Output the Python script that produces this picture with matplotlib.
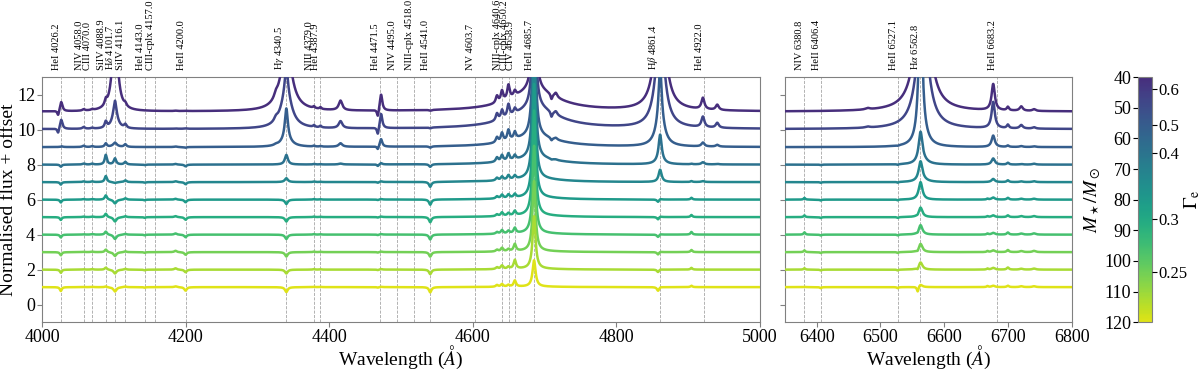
import numpy as np
import matplotlib.pyplot as plt
from matplotlib import cm, colors
from matplotlib.transforms import blended_transform_factory

plt.rcParams['font.family'] = ['Liberation Serif', 'DejaVu Serif']
plt.rcParams['mathtext.fontset'] = 'stix'

# model grid (top curve = 40 Msun, bottom = 120 Msun)
masses = [40, 48, 56, 64, 72, 80, 88, 96, 104, 112, 120]
offsets = [10, 9, 8, 7, 6, 5, 4, 3, 2, 1, 0]
cont_level = [1.03, 1.03, 1.0, 1.0, 1.0, 1.0, 1.0, 1.0, 1.0, 1.0, 1.0]

# Gamma_e axis of the colour bar (tick value, mass position)
gamma_ticks = [0.6, 0.5, 0.4, 0.3, 0.25]
gamma_tick_mass = [43.9, 55.5, 64.7, 86.4, 103.5]

# marked lines
blue_ids = ['HeI 4026.2', 'NIV 4058.0', 'CIII 4070.0', 'SiIV 4088.9', r'H$\delta$ 4101.7',
            'SiIV 4116.1', 'HeI 4143.0', 'CIII-cplx 4157.0', 'HeII 4200.0', r'H$\gamma$ 4340.5',
            'NIII 4379.0', 'HeI 4387.9', 'HeI 4471.5', 'NIV 4495.0', 'NIII-cplx 4518.0',
            'HeII 4541.0', 'NV 4603.7', 'NIII-cplx 4640.6', 'CIII-cplx 4650.2', 'CIV 4658.9',
            'HeII 4685.7', r'H$\beta$ 4861.4', 'HeI 4922.0']
blue_waves = [4026.2, 4058.0, 4070.0, 4088.9, 4101.7, 4116.1, 4143.0, 4157.0, 4200.0, 4340.5,
              4379.0, 4387.9, 4471.5, 4495.0, 4518.0, 4541.0, 4603.7, 4640.6, 4650.2, 4658.9,
              4685.7, 4861.4, 4922.0]
red_ids = ['NIV 6380.8', 'HeII 6406.4', 'HeII 6527.1', r'H$\alpha$ 6562.8', 'HeII 6683.2']
red_waves = [6380.8, 6406.4, 6527.1, 6562.8, 6683.2]

# profile components: centre, half width, amplitude per model
blue_centre = [4026.2, 4022.5, 4026.8, 4058.0, 4070.0, 4088.9, 4101.7, 4101.7, 4101.7,
               4116.1, 4143.0, 4186.0, 4200.0, 4326.0, 4340.5, 4340.5, 4340.5,
               4379.0, 4388.0, 4416.0, 4472.5, 4468.0, 4541.0, 4634.0, 4641.0, 4650.0,
               4658.9, 4686.0, 4685.7, 4710.0, 4716.0, 4861.4, 4861.4, 4858.5,
               4905.0, 4921.0, 4941.0]
blue_width = [1.5, 1.5, 2.0, 2.0, 2.0, 1.8, 4.5, 2.0, 2.5,
              2.0, 1.5, 2.0, 2.0, 3.0, 9.0, 2.5, 2.2,
              1.5, 1.5, 3.0, 2.0, 1.5, 2.0, 2.0, 2.0, 2.0,
              2.0, 40.0, 2.5, 1.5, 2.5, 7.0, 2.5, 1.8,
              1.5, 2.5, 2.5]
blue_amp = [
    [0, 0, -0.05, -0.12, -0.14, -0.16, -0.16, -0.16, -0.18, -0.18, -0.22],
    [-0.3, -0.3, 0, 0, 0, 0, 0, 0, 0, 0, 0],
    [0.55, 0.55, 0.08, 0, 0, 0, 0, 0, 0, 0, 0],
    [0.08, 0.1, 0.08, 0.06, 0.04, 0.03, 0.03, 0.02, 0.02, 0.02, 0.01],
    [0.05, 0.05, 0.05, 0.05, 0.04, 0.03, 0.03, 0.03, 0.03, 0.03, 0.02],
    [0.3, 0.35, 0.2, 0.55, 0.35, 0.25, 0.2, 0.18, 0.15, 0.12, 0.05],
    [4.5, 1.0, 0.15, 0, 0, 0, 0, 0, 0, 0, 0],
    [0.8, 0.6, 0.1, 0.35, 0.05, 0, 0, 0, 0, 0, 0],
    [0, 0, 0, 0, -0.1, -0.22, -0.25, -0.25, -0.22, -0.22, -0.25],
    [0.15, 0.2, 0.15, 0.15, 0.1, 0.08, 0.06, 0.05, 0.05, 0.05, 0.04],
    [0, 0, 0, -0.03, -0.03, -0.04, -0.04, -0.04, -0.04, -0.04, -0.03],
    [0.02, 0.02, 0.03, 0.04, 0.05, 0.05, 0.06, 0.07, 0.08, 0.08, 0.05],
    [0.02, 0.02, -0.04, -0.1, -0.12, -0.15, -0.15, -0.15, -0.15, -0.15, -0.2],
    [0.25, 0.2, 0.05, 0, 0, 0, 0, 0, 0, 0, 0],
    [3.5, 2.0, 0.4, 0, 0, 0, 0, 0, 0, 0, 0],
    [1.5, 1.5, 1.8, 0.55, 0.22, 0, 0, 0, 0, 0, 0],
    [0, 0, 0, 0, 0, -0.25, -0.25, -0.25, -0.25, -0.22, -0.28],
    [0.1, 0.1, 0.05, 0.03, 0.03, 0.03, 0.03, 0.03, 0.03, 0.03, 0.02],
    [0.1, 0.1, 0.03, 0.02, 0.02, 0.02, 0.02, 0.02, 0.02, 0.02, 0.02],
    [0.55, 0.4, 0.2, 0.05, 0, 0, 0, 0, 0, 0, 0],
    [0.95, 0.85, 0.45, 0.08, 0.04, 0.03, 0.03, 0.03, 0.03, 0.03, 0.02],
    [-0.45, -0.45, -0.2, -0.1, -0.05, -0.03, -0.03, -0.03, -0.03, -0.03, -0.03],
    [-0.05, -0.05, -0.08, -0.15, -0.28, -0.3, -0.3, -0.28, -0.26, -0.26, -0.3],
    [0.4, 0.4, 0.3, 0.25, 0.15, 0.12, 0.1, 0.1, 0.1, 0.1, 0.1],
    [0.6, 0.5, 0.5, 0.35, 0.2, 0.2, 0.2, 0.2, 0.2, 0.2, 0.15],
    [0.8, 0.7, 0.6, 0.4, 0.25, 0.2, 0.15, 0.15, 0.12, 0.12, 0.1],
    [0.3, 0.3, 0.4, 0.25, 0.2, 0.2, 0.25, 0.3, 0.4, 0.5, 0.35],
    [1.2, 1.2, 0.6, 0.35, 0.2, 0.12, 0.1, 0.08, 0.06, 0.05, 0.03],
    [8, 8, 8, 7.5, 7, 6.5, 6, 5, 4, 3, 1.5],
    [-0.3, -0.3, -0.15, -0.05, 0, 0, 0, 0, 0, 0, 0],
    [0.25, 0.2, 0.1, 0.03, 0, 0, 0, 0, 0, 0, 0],
    [8, 6, 1.5, 0.2, 0, 0, 0, 0, 0, 0, 0],
    [0, 0, 3, 1.5, 0.7, 0.05, 0.05, 0.04, 0.04, 0.03, 0.03],
    [0, 0, 0, 0, 0, -0.15, -0.15, -0.15, -0.15, -0.15, -0.22],
    [0, 0, 0, 0.03, 0.05, 0.1, 0.12, 0.15, 0.12, 0.1, 0.08],
    [0.65, 0.6, 0.22, 0.12, 0.05, 0, 0, 0, 0, 0, 0],
    [0.3, 0.28, 0.1, 0.03, 0, 0, 0, 0, 0, 0, 0],
]

red_centre = [6480.0, 6380.8, 6406.4, 6527.1, 6566.0, 6563.0, 6558.5,
              6677.0, 6668.0, 6700.0, 6721.0, 6741.0]
red_width = [4.0, 1.5, 1.5, 1.5, 10.0, 3.5, 1.5, 3.0, 1.5, 2.0, 3.0, 3.0]
red_amp = [
    [0.08, 0.06, 0, 0, 0, 0, 0, 0, 0, 0, 0],
    [0, 0, 0, 0, 0, 0.1, 0.1, 0.13, 0.1, 0.08, 0.02],
    [0, 0, 0, -0.03, -0.04, -0.05, -0.05, -0.05, -0.05, -0.05, -0.06],
    [0, 0, -0.03, -0.04, -0.05, -0.05, -0.05, -0.05, -0.05, -0.05, -0.06],
    [10, 7, 0.5, 0.2, 0.1, 0, 0, 0, 0, 0, 0],
    [0, 0, 8, 1.7, 1.1, 1.0, 0.55, 0.55, 0.48, 0.42, 0.15],
    [0, 0, 0, 0, 0, 0, -0.05, -0.08, -0.1, -0.12, -0.3],
    [1.5, 1.5, 0.65, 0.35, 0.18, 0.12, 0.1, 0.1, 0.1, 0.1, 0.08],
    [0, 0, 0, 0, 0, 0.05, 0.05, 0.06, 0.06, 0.06, 0.06],
    [0.2, 0.2, 0.08, 0.1, 0.1, 0.1, 0.1, 0.12, 0.12, 0.12, 0.08],
    [0.25, 0.2, 0.05, 0.03, 0.04, 0.05, 0.06, 0.06, 0.06, 0.05, 0.05],
    [0.1, 0.08, 0.04, 0.05, 0.05, 0.05, 0.06, 0.07, 0.07, 0.06, 0.05],
]


def spectrum(wave, centres, widths, amps, k):
    flux = np.full_like(wave, cont_level[k])
    for c, w, a in zip(centres, widths, amps):
        flux += a[k] * w**2 / ((wave - c)**2 + w**2)
    return flux


wave_b = np.linspace(4000, 5000, 5001)
wave_r = np.linspace(6350, 6800, 2251)

# viridis without its darkest end
cmap = colors.ListedColormap(plt.get_cmap('viridis')(np.linspace(0.13, 0.95, 256)))
norm = colors.Normalize(vmin=40, vmax=120)

fig = plt.figure(figsize=(12, 3.69), dpi=100)
ax1 = fig.add_axes([0.035, 0.127, 0.598, 0.664])
ax2 = fig.add_axes([0.654, 0.127, 0.239, 0.664], sharey=ax1)
cax = fig.add_axes([0.948, 0.127, 0.0117, 0.664])

for k, m in enumerate(masses):
    col = cmap(norm(m))
    ax1.plot(wave_b, offsets[k] + spectrum(wave_b, blue_centre, blue_width, blue_amp, k),
             color=col, lw=1.8, zorder=3)
    ax2.plot(wave_r, offsets[k] + spectrum(wave_r, red_centre, red_width, red_amp, k),
             color=col, lw=1.8, zorder=3)

for ax, ids, waves in [(ax1, blue_ids, blue_waves), (ax2, red_ids, red_waves)]:
    tr = blended_transform_factory(ax.transData, ax.transAxes)
    for name, w in zip(ids, waves):
        ax.axvline(w, color='grey', ls='--', lw=0.6, alpha=0.7, zorder=1)
        ax.text(w, 1.03, name, transform=tr, rotation=90, ha='right', va='bottom', fontsize=7.5)
    ax.set_xlabel(r'Wavelength ($Å$)', fontsize=14)
    ax.xaxis.set_label_coords(0.5, -0.09)
    ax.tick_params(labelsize=13, color='grey', pad=1.5)
    for s in ax.spines.values():
        s.set_color('grey')

ax1.set_xlim(4000, 5000)
ax1.set_xticks([4000, 4200, 4400, 4600, 4800, 5000])
ax1.set_ylim(-1, 13)
ax1.set_yticks([0, 2, 4, 6, 8, 10, 12])
ax1.set_ylabel('Normalised flux + offset', fontsize=14)
ax1.yaxis.set_label_coords(-0.035, 0.5)
ax2.set_xlim(6350, 6800)
ax2.set_xticks([6400, 6500, 6600, 6700, 6800])
ax2.tick_params(labelleft=False)

cb = fig.colorbar(cm.ScalarMappable(norm=norm, cmap=cmap), cax=cax)
cb.outline.set_edgecolor('grey')
cax.invert_yaxis()
cax.yaxis.set_ticks_position('left')
cax.yaxis.set_label_position('left')
cax.set_yticks([40, 50, 60, 70, 80, 90, 100, 110, 120])
cax.tick_params(labelsize=13, pad=1)
cb.set_label(r'$M_\star/M_\odot$', fontsize=14, labelpad=1)
gax = cax.twinx()
gax.set_ylim(cax.get_ylim())
gax.set_yticks(gamma_tick_mass)
gax.set_yticklabels([str(g) for g in gamma_ticks])
gax.tick_params(labelsize=12, pad=1)
gax.set_ylabel(r'$\Gamma_{\rm e}$', fontsize=14)
gax.yaxis.set_label_coords(3.15, 0.5)
for s in gax.spines.values():
    s.set_visible(False)

fig.savefig('out.png', dpi=100)
